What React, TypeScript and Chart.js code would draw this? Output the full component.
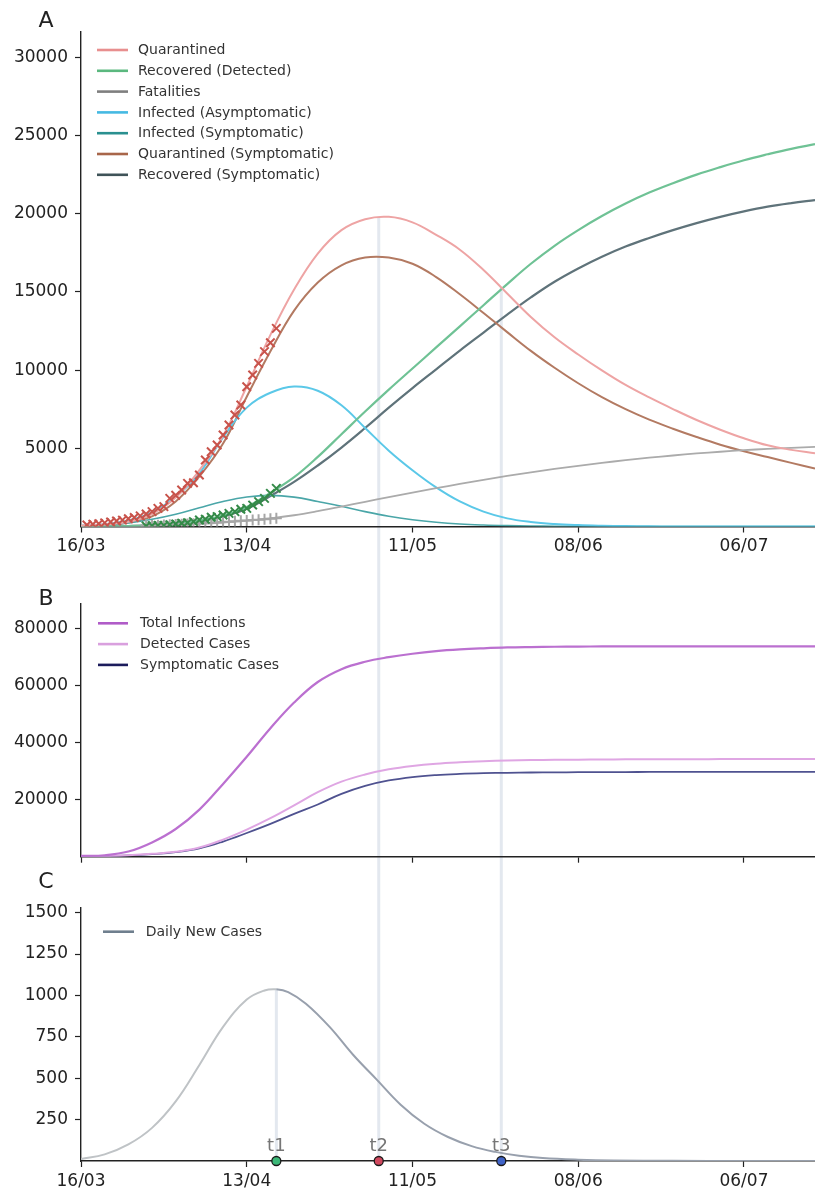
import React, { useEffect, useRef } from 'react';
import { Chart, registerables } from 'chart.js';

Chart.register(...registerables);

const FONT = "'DejaVu Sans', 'Noto Sans', sans-serif";
const W = 815;
const H = 1190;

// ---------- shared x axis (days since 16/03) ----------
const xTickDays = [0, 28, 56, 84, 112];
const xTickLabels = ['16/03', '13/04', '11/05', '08/06', '06/07'];
const X_MAX = 124;

// ---------- Panel A ----------
const daysA = [0, 4, 8, 12, 16, 20, 24, 28, 32, 36, 40, 44, 48, 52, 56, 60, 64, 68, 72, 76, 80, 84, 88, 92, 96, 100, 104, 108, 112, 116, 120, 124];
const quarantined = [50, 130, 300, 800, 1850, 3600, 5800, 8950, 12250, 15150, 17450, 18950, 19650, 19800, 19450, 18650, 17700, 16400, 14900, 13400, 12100, 11000, 9980, 9050, 8250, 7510, 6810, 6190, 5640, 5190, 4900, 4680];
const recoveredDetected = [0, 10, 30, 80, 190, 380, 700, 1250, 2150, 3150, 4450, 5900, 7350, 8750, 10100, 11450, 12800, 14150, 15500, 16800, 17950, 18950, 19850, 20650, 21350, 21950, 22500, 22980, 23420, 23800, 24150, 24450];
const fatalities = [0, 5, 15, 40, 90, 160, 250, 370, 520, 720, 980, 1270, 1580, 1880, 2170, 2450, 2720, 2980, 3230, 3460, 3680, 3880, 4070, 4240, 4400, 4540, 4670, 4780, 4880, 4960, 5030, 5090];
const infectedAsym = [50, 150, 380, 900, 1900, 3400, 5700, 7600, 8550, 8950, 8680, 7750, 6300, 4850, 3600, 2500, 1600, 950, 520, 290, 160, 90, 50, 25, 12, 5, 2, 0, 0, 0, 0, 0];
const infectedSym = [20, 80, 220, 460, 780, 1200, 1600, 1890, 1990, 1880, 1600, 1300, 950, 650, 430, 270, 160, 95, 55, 30, 15, 8, 4, 2, 0, 0, 0, 0, 0, 0, 0, 0];
const quarantinedSym = [40, 110, 260, 650, 1600, 3200, 5300, 8300, 11200, 13800, 15600, 16700, 17200, 17200, 16800, 15950, 14850, 13650, 12430, 11230, 10150, 9160, 8270, 7500, 6830, 6250, 5720, 5230, 4810, 4440, 4070, 3710];
const recoveredSym = [0, 10, 30, 70, 170, 340, 640, 1130, 1950, 2850, 3900, 5050, 6300, 7600, 8850, 10050, 11250, 12400, 13550, 14650, 15650, 16500, 17250, 17900, 18450, 18950, 19400, 19800, 20150, 20450, 20680, 20870];

// observed data (markers)
const obsDaysQ = [1, 2, 3, 4, 5, 6, 7, 8, 9, 10, 11, 12, 13, 14, 15, 16, 17, 18, 19, 20, 21, 22, 23, 24, 25, 26, 27, 28, 29, 30, 31, 32, 33];
const obsQuarantined = [100, 140, 180, 230, 290, 350, 410, 500, 580, 680, 800, 950, 1160, 1270, 1800, 2000, 2330, 2760, 2800, 3290, 4250, 4780, 5210, 5850, 6490, 7130, 7770, 8940, 9690, 10430, 11180, 11750, 12670];
const obsDaysR = [11, 12, 13, 14, 15, 16, 17, 18, 19, 20, 21, 22, 23, 24, 25, 26, 27, 28, 29, 30, 31, 32, 33];
const obsRecovered = [30, 45, 60, 75, 115, 160, 205, 245, 310, 415, 460, 590, 630, 735, 840, 950, 1100, 1160, 1370, 1590, 1800, 2120, 2440];
const obsDaysF = [11, 12, 13, 14, 15, 16, 17, 18, 19, 20, 21, 22, 23, 24, 25, 26, 27, 28, 29, 30, 31, 32, 33];
const obsFatalities = [60, 70, 80, 95, 110, 125, 140, 160, 180, 200, 220, 240, 260, 285, 310, 335, 360, 385, 410, 435, 460, 490, 520];

const yTicksA = [5000, 10000, 15000, 20000, 25000, 30000];
const Y_MAX_A = 31620;

// ---------- Panel B ----------
const totalInfections = [300, 500, 1800, 5000, 9700, 16500, 25500, 35000, 45000, 54000, 61200, 65700, 68300, 69900, 71100, 72000, 72600, 73000, 73300, 73450, 73550, 73600, 73650, 73650, 73700, 73700, 73700, 73700, 73700, 73700, 73700, 73700];
const detectedCases = [100, 200, 500, 1000, 1700, 3200, 6000, 9500, 13500, 18000, 22600, 26300, 28800, 30600, 31800, 32600, 33100, 33450, 33700, 33850, 33950, 34000, 34050, 34100, 34100, 34150, 34150, 34200, 34200, 34200, 34200, 34200];
const symptomaticCases = [100, 200, 450, 900, 1600, 2900, 5300, 8300, 11500, 15000, 18300, 22000, 24800, 26700, 27900, 28600, 29000, 29250, 29400, 29500, 29550, 29600, 29650, 29650, 29700, 29700, 29700, 29700, 29700, 29700, 29700, 29700];
const yTicksB = [20000, 40000, 60000, 80000];
const Y_MAX_B = 88700;

// ---------- Panel C ----------
const daysC = [0, 4, 8, 12, 16, 20, 24, 28, 31, 33, 35, 38, 42, 46, 50, 54, 58, 62, 66, 70, 74, 78, 84, 90, 100, 112, 124];
const dailyNewCases = [12, 40, 100, 200, 360, 580, 810, 975, 1030, 1037, 1020, 950, 810, 640, 490, 340, 225, 145, 90, 55, 32, 18, 8, 3, 1, 0, 0];
const yTicksC = [250, 500, 750, 1000, 1250, 1500];
const Y_MAX_C = 1528;

// ---------- key dates ----------
const tNames = ['t1', 't2', 't3'];
const tDays = [33, 50.3, 71];
const tColors = ['#3cb878', '#d0485e', '#3f63c8'];
const tTopA = [null, 19800, 15300];
const tTopC = [1037, null, null];

// ---------- layout (page pixels) ----------
const AREA_A = { top: 32, bottom: 526.5 };
const AREA_B = { top: 603.5, bottom: 856.7 };
const AREA_C = { top: 908, bottom: 1161 };
const SPLIT_AB = 575;
const SPLIT_BC = 890;

const AXIS_COLOR = '#222222';
const VLINE_COLOR = '#e3e8ef';

const pts = (xs: number[], ys: number[]) => xs.map((x, i) => ({ x, y: ys[i] }));

function lineDs(label: string, xs: number[], ys: number[], color: string, legendColor: string, width = 2, extra: any = {}) {
  return {
    type: 'line',
    label,
    data: pts(xs, ys),
    borderColor: color,
    legendColor,
    borderWidth: width,
    pointRadius: 0,
    tension: 0.4,
    fill: false,
    order: 1,
    ...extra,
  };
}

function markerDs(label: string, xs: number[], ys: number[], color: string, style: string, radius: number) {
  return {
    type: 'line',
    label,
    data: pts(xs, ys),
    showLine: false,
    pointStyle: style,
    pointRadius: radius,
    pointBorderColor: color,
    pointBackgroundColor: color,
    pointBorderWidth: 2,
    borderColor: color,
    order: 0,
  };
}

function scalesFor(area: { top: number; bottom: number }, yMax: number, yTicks: number[], showXLabels: boolean) {
  const tickFont = { family: FONT, size: 17 };
  const grid = { drawOnChartArea: false, drawTicks: true, tickLength: 6, tickColor: AXIS_COLOR, tickWidth: 1.2 };
  const border = { display: true, color: AXIS_COLOR, width: 1.4 };
  return {
    x: {
      type: 'linear',
      min: 0,
      max: X_MAX,
      afterBuildTicks: (ax: any) => {
        ax.ticks = xTickDays.map((v) => ({ value: v }));
      },
      afterFit: (ax: any) => {
        ax.height = H - area.bottom;
      },
      ticks: {
        autoSkip: false,
        maxRotation: 0,
        padding: 4,
        color: AXIS_COLOR,
        font: tickFont,
        callback: (v: number) => {
          const i = xTickDays.indexOf(v);
          return showXLabels && i >= 0 ? xTickLabels[i] : '';
        },
      },
      grid,
      border,
    },
    y: {
      type: 'linear',
      min: 0,
      max: yMax,
      afterBuildTicks: (ax: any) => {
        ax.ticks = yTicks.map((v) => ({ value: v }));
      },
      afterFit: (ax: any) => {
        ax.width = 81;
      },
      ticks: {
        padding: 7,
        color: AXIS_COLOR,
        font: tickFont,
        callback: (v: number) => String(v),
      },
      grid,
      border,
    },
  };
}

const panelDecor = {
  id: 'panelDecor',
  beforeDraw(chart: any, _args: any, o: any) {
    const ctx = chart.ctx;
    const xs = chart.scales.x;
    const ys = chart.scales.y;
    ctx.save();
    ctx.strokeStyle = VLINE_COLOR;
    ctx.lineWidth = 3;
    (o.vlines || []).forEach((v: any) => {
      const x = xs.getPixelForValue(v.day);
      const y0 = v.fromValue != null ? ys.getPixelForValue(v.fromValue) : v.fromY;
      const y1 = v.toY != null ? v.toY : chart.chartArea.bottom;
      ctx.beginPath();
      ctx.moveTo(x, y0);
      ctx.lineTo(x, y1);
      ctx.stroke();
    });
    ctx.restore();
  },
  afterDraw(chart: any, _args: any, o: any) {
    const ctx = chart.ctx;
    ctx.save();
    if (o.letter) {
      ctx.fillStyle = '#222';
      ctx.font = `22px ${FONT}`;
      ctx.textAlign = 'center';
      ctx.textBaseline = 'middle';
      ctx.fillText(o.letter.text, o.letter.x, o.letter.y);
    }
    if (o.legend) {
      const L = o.legend;
      const items = chart.data.datasets.filter((d: any) => d.legendColor);
      ctx.font = `14px ${FONT}`;
      ctx.textAlign = 'left';
      ctx.textBaseline = 'middle';
      items.forEach((d: any, i: number) => {
        const y = L.y + i * L.rowH;
        ctx.strokeStyle = d.legendColor;
        ctx.lineWidth = 2.6;
        ctx.beginPath();
        ctx.moveTo(L.x, y);
        ctx.lineTo(L.x + L.len, y);
        ctx.stroke();
        ctx.fillStyle = '#333';
        ctx.fillText(d.label, L.textX, y + 0.5);
      });
    }
    if (o.tMarks) {
      const xs = chart.scales.x;
      const yb = chart.chartArea.bottom;
      tDays.forEach((d, i) => {
        const x = xs.getPixelForValue(d);
        ctx.fillStyle = '#767676';
        ctx.font = `18px ${FONT}`;
        ctx.textAlign = 'center';
        ctx.textBaseline = 'middle';
        ctx.fillText(tNames[i], x, yb - 15);
        ctx.beginPath();
        ctx.arc(x, yb, 4.5, 0, Math.PI * 2);
        ctx.fillStyle = tColors[i];
        ctx.fill();
        ctx.lineWidth = 1.3;
        ctx.strokeStyle = '#1a1a1a';
        ctx.stroke();
      });
    }
    ctx.restore();
  },
};

function baseOptions(area: any, yMax: number, yTicks: number[], showXLabels: boolean, decor: any) {
  return {
    responsive: false,
    animation: false,
    devicePixelRatio: 1,
    layout: { autoPadding: false, padding: { top: area.top, left: 0, right: 0, bottom: 0 } },
    scales: scalesFor(area, yMax, yTicks, showXLabels),
    plugins: {
      legend: { display: false },
      tooltip: { enabled: false },
      title: { display: false },
      panelDecor: decor,
    },
    events: [],
  };
}

function configA(): any {
  return {
    type: 'line',
    data: {
      datasets: [
        lineDs('Quarantined', daysA, quarantined, '#eea4a4', '#e88f8f'),
        lineDs('Recovered (Detected)', daysA, recoveredDetected, '#6fc295', '#5bb87f', 2.2),
        lineDs('Fatalities', daysA, fatalities, '#ababab', '#7f7f7f', 1.8),
        lineDs('Infected (Asymptomatic)', daysA, infectedAsym, '#5bc8e8', '#45b9e2'),
        lineDs('Infected (Symptomatic)', daysA, infectedSym, '#4aa6a8', '#2a9090', 1.6),
        lineDs('Quarantined (Symptomatic)', daysA, quarantinedSym, '#b37a62', '#a8664a'),
        lineDs('Recovered (Symptomatic)', daysA, recoveredSym, '#5f737a', '#3f5358', 2.2),
        markerDs('Quarantined (data)', obsDaysQ, obsQuarantined, '#c8534b', 'crossRot', 6),
        markerDs('Recovered (data)', obsDaysR, obsRecovered, '#348a48', 'crossRot', 6),
        markerDs('Fatalities (data)', obsDaysF, obsFatalities, '#a6a6a6', 'cross', 5.5),
      ],
    },
    options: baseOptions(AREA_A, Y_MAX_A, yTicksA, true, {
      letter: { text: 'A', x: 46, y: 21 },
      legend: { x: 97, len: 31, textX: 138, y: 50, rowH: 20.8 },
      vlines: tDays
        .map((d, i) => ({ day: d, fromValue: tTopA[i], toY: SPLIT_AB }))
        .filter((v) => v.fromValue != null),
    }),
    plugins: [panelDecor],
  };
}

function configB(): any {
  return {
    type: 'line',
    data: {
      datasets: [
        lineDs('Total Infections', daysA, totalInfections, '#bb70d0', '#b05cc8', 2.2),
        lineDs('Detected Cases', daysA, detectedCases, '#dfa6e3', '#d9a0de', 2),
        lineDs('Symptomatic Cases', daysA, symptomaticCases, '#4f5290', '#1c1c5c', 1.8),
      ],
    },
    options: baseOptions(AREA_B, Y_MAX_B, yTicksB, false, {
      letter: { text: 'B', x: 46, y: 599 },
      legend: { x: 98, len: 30, textX: 140, y: 623.3, rowH: 20.8 },
      vlines: tDays
        .map((d, i) => ({ day: d, fromY: SPLIT_AB, toY: SPLIT_BC, show: tTopA[i] != null }))
        .filter((v) => v.show),
    }),
    plugins: [panelDecor],
  };
}

function configC(): any {
  return {
    type: 'line',
    data: {
      datasets: [
        lineDs('Daily New Cases', daysC, dailyNewCases, '#98a0ad', '#6f7f8e', 2, {
          segment: {
            borderColor: (ctx: any) => (ctx.p1.parsed.x <= tDays[0] ? '#bfc3c6' : '#98a0ad'),
          },
        }),
      ],
    },
    options: baseOptions(AREA_C, Y_MAX_C, yTicksC, true, {
      letter: { text: 'C', x: 46, y: 882.7 },
      legend: { x: 103, len: 31, textX: 145.7, y: 931.7, rowH: 20.8 },
      vlines: tDays.map((d, i) => (tTopC[i] != null ? { day: d, fromValue: tTopC[i] } : { day: d, fromY: SPLIT_BC })),
      tMarks: true,
    }),
    plugins: [panelDecor],
  };
}

export default function App() {
  const refA = useRef<HTMLCanvasElement>(null);
  const refB = useRef<HTMLCanvasElement>(null);
  const refC = useRef<HTMLCanvasElement>(null);

  useEffect(() => {
    Chart.defaults.font.family = FONT;
    const charts: Chart[] = [];
    if (refA.current) charts.push(new Chart(refA.current, configA()));
    if (refB.current) charts.push(new Chart(refB.current, configB()));
    if (refC.current) charts.push(new Chart(refC.current, configC()));
    return () => charts.forEach((c) => c.destroy());
  }, []);

  const cs: React.CSSProperties = { position: 'absolute', left: 0, top: 0 };
  return (
    <div style={{ position: 'absolute', left: 0, top: 0, width: W, height: H, background: '#fff', overflow: 'hidden' }}>
      <canvas ref={refA} width={W} height={H} style={cs} />
      <canvas ref={refB} width={W} height={H} style={cs} />
      <canvas ref={refC} width={W} height={H} style={cs} />
    </div>
  );
}
